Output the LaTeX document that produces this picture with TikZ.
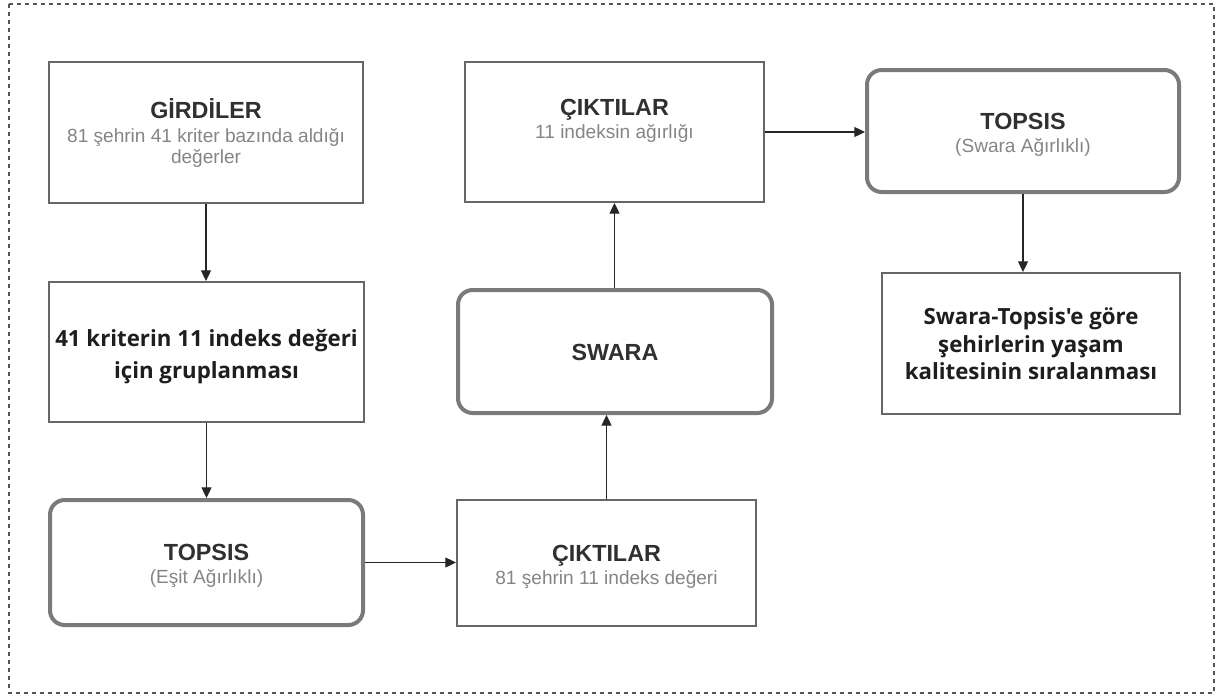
\documentclass[tikz,border=0pt]{standalone}
\usepackage{fontspec}
\setmainfont{Liberation Sans}
\newfontfamily\lsans{Liberation Sans}
\newfontfamily\osans{Open Sans}
\usetikzlibrary{arrows.meta}
\definecolor{boxline}{HTML}{666666}
\definecolor{roundline}{HTML}{7A7A7A}
\definecolor{titlecol}{HTML}{303030}
\definecolor{subcol}{HTML}{858585}
\definecolor{boldcol}{HTML}{1E1E1E}
\definecolor{framecol}{HTML}{555555}
\begin{document}
\begin{tikzpicture}[x=0.75pt,y=-0.75pt,
  plainbox/.style={draw=boxline,line width=1.5pt,fill=white,inner sep=0pt},
  roundbox/.style={draw=roundline,line width=3pt,fill=white,rounded corners=11pt,inner sep=0pt},
  titletext/.style={anchor=base,inner sep=0pt,text=titlecol,font=\lsans\bfseries\fontsize{17.5pt}{20pt}\selectfont},
  subtext/.style={anchor=base,inner sep=0pt,text=subcol,font=\lsans\fontsize{14.3pt}{17pt}\selectfont},
  boldtext/.style={anchor=base,inner sep=0pt,text=boldcol,font=\osans\bfseries\fontsize{16.7pt}{20pt}\selectfont},
  conn/.style={draw=black!85,line width=0.9pt,-{Triangle[length=8pt,width=7.5pt]}}]
\useasboundingbox (0,0) rectangle (1217,697);
\draw[framecol,line width=1.2pt,dash pattern=on 3pt off 3pt] (9,4) rectangle (1214,693);

% boxes
\node[plainbox,minimum width=235.5pt,minimum height=105.75pt] (girdi) at (206,132.5) {};
\node[plainbox,minimum width=236.25pt,minimum height=105pt] (grup) at (206.5,352) {};
\node[roundbox,minimum width=234.75pt,minimum height=93.75pt] (topsisA) at (206.5,562.5) {};
\node[plainbox,minimum width=224.25pt,minimum height=94.5pt] (ciktiA) at (606.5,563) {};
\node[roundbox,minimum width=235.5pt,minimum height=92.25pt] (swara) at (615,351.5) {};
\node[plainbox,minimum width=224.25pt,minimum height=105pt] (ciktiB) at (614.5,132) {};
\node[roundbox,minimum width=234pt,minimum height=91.5pt] (topsisB) at (1023,131) {};
\node[plainbox,minimum width=223.5pt,minimum height=105.75pt] (sonuc) at (1031,343.5) {};

% texts
\node[titletext] (girdiT) at (206,118) {GİRDİLER};
\node[subtext] (girdiS1) at (206,142) {81 şehrin 41 kriter bazında aldığı};
\node[subtext] (girdiS2) at (206,163) {değerler};

\node[boldtext] (grupL1) at (206.5,346) {41 kriterin 11 indeks değeri};
\node[boldtext] (grupL2) at (206.5,378) {için gruplanması};

\node[titletext] (topsisAT) at (206.5,560) {TOPSIS};
\node[subtext] (topsisAS) at (206.5,583) {(Eşit Ağırlıklı)};

\node[titletext] (ciktiAT) at (606.5,561) {ÇIKTILAR};
\node[subtext] (ciktiAS) at (606.5,584) {81 şehrin 11 indeks değeri};

\node[titletext] (swaraT) at (615,360) {SWARA};

\node[titletext] (ciktiBT) at (614.5,115) {ÇIKTILAR};
\node[subtext] (ciktiBS) at (614.5,138) {11 indeksin ağırlığı};

\node[titletext] (topsisBT) at (1023,129) {TOPSIS};
\node[subtext] (topsisBS) at (1023,152) {(Swara Ağırlıklı)};

\node[boldtext] (sonucL1) at (1031,324) {Swara-Topsis'e göre};
\node[boldtext] (sonucL2) at (1031,352) {şehirlerin yaşam};
\node[boldtext] (sonucL3) at (1031,379) {kalitesinin sıralanması};

% connectors
\draw[conn] (girdi.south) -- (girdi.south |- grup.north);
\draw[conn] (grup.south) -- (grup.south |- topsisA.north);
\draw[conn] (topsisA.east) -- (topsisA.east -| ciktiA.west);
\draw[conn] (ciktiA.north) -- (ciktiA.north |- swara.south);
\draw[conn] (ciktiB.south |- swara.north) -- (ciktiB.south);
\draw[conn] (ciktiB.east) -- (ciktiB.east -| topsisB.west);
\draw[conn] (topsisB.south) -- (topsisB.south |- sonuc.north);
\end{tikzpicture}
\end{document}
